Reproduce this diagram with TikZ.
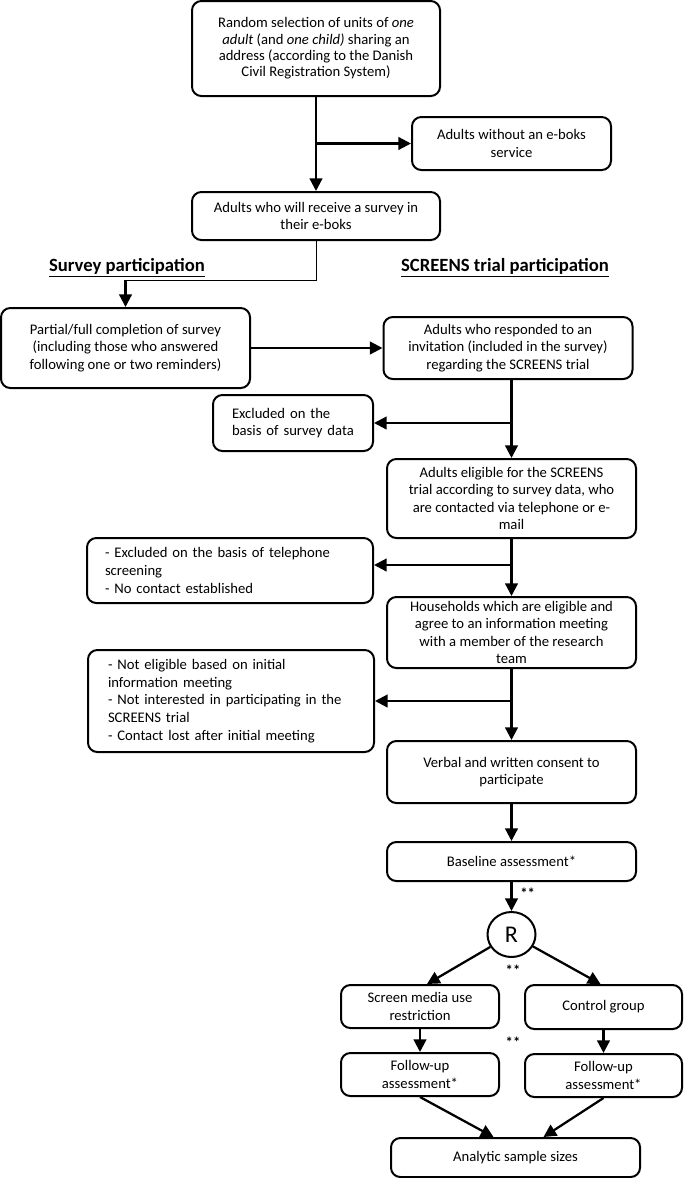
\documentclass[tikz,border=0pt]{standalone}
\usepackage{fontspec}
\setmainfont{Carlito}
\usetikzlibrary{arrows.meta,calc,shapes.geometric}
\begin{document}
\begin{tikzpicture}[x=0.75pt,y=-0.75pt,
  box/.style={draw,line width=1.5pt,rounded corners=7pt,inner sep=0pt,align=center,font=\fontsize{11}{13.2}\selectfont},
  lbox/.style={draw,line width=1.5pt,rounded corners=7pt,align=left,inner ysep=0pt,font=\fontsize{11}{13.2}\selectfont},
  arr/.style={line width=1.7pt,-{Triangle[length=9.5pt,width=9.5pt]}},
  thinline/.style={line width=0.7pt},
  head/.style={font=\fontsize{14}{16}\selectfont\bfseries,inner sep=0pt},
  star/.style={font=\fontsize{11}{12}\selectfont\bfseries,inner sep=0pt}]
\useasboundingbox (0,0) rectangle (685,1178);

\node[box,minimum width=186pt,minimum height=71.25pt,font=\fontsize{11}{12.2}\selectfont] (b1) at (316,48.5)
  {Random selection of units of \textit{one}\\ \textit{adult} (and \textit{one child)} sharing an\\ address (according to the Danish\\ Civil Registration System)};
\node[box,minimum width=149.25pt,minimum height=39.75pt] (b2) at (511.5,143.5)
  {Adults without an e-boks\\ service};
\node[box,minimum width=186pt,minimum height=36pt,font=\fontsize{11}{12.5}\selectfont] (b3) at (316,216)
  {Adults who will receive a survey in\\ their e-boks};
\node[head] (h1) at (127,268) {\underline{Survey participation}};
\node[head] (h2) at (505,268) {\underline{SCREENS trial participation}};
\node[box,minimum width=186.75pt,minimum height=60pt] (b4) at (125.5,348)
  {Partial/full completion of survey\\ (including those who answered\\ following one or two reminders)};
\node[box,minimum width=186.75pt,minimum height=46.5pt] (b5) at (508,348)
  {Adults who responded to an\\ invitation (included in the survey)\\ regarding the SCREENS trial};
\node[lbox,text width=91.5pt,inner xsep=14.25pt,minimum height=42pt] (b6) at (293,423)
  {Excluded on the\\ basis of survey data};
\node[box,minimum width=186.75pt,minimum height=59.25pt] (b7) at (511.5,498.5)
  {Adults eligible for the SCREENS\\ trial according to survey data, who\\ are contacted via telephone or e-\\ mail};
\node[lbox,text width=187.5pt,inner xsep=13.5pt,minimum height=48.75pt] (b8) at (230,570.5)
  {- Excluded on the basis of telephone\\ screening\\ - No contact established};
\node[box,minimum width=186.75pt,minimum height=53.25pt] (b9) at (511.5,632.5)
  {Households which are eligible and\\ agree to an information meeting\\ with a member of the research\\ team};
\node[lbox,text width=184.5pt,inner xsep=15pt,minimum height=76.5pt] (b10) at (231,701)
  {- Not eligible based on initial\\ information meeting\\ - Not interested in participating in the\\ SCREENS trial\\ - Contact lost after initial meeting};
\node[box,minimum width=186.75pt,minimum height=46.5pt] (b11) at (511.5,772)
  {Verbal and written consent to\\ participate};
\node[box,minimum width=186.75pt,minimum height=29.25pt] (b12) at (511.5,861.5)
  {Baseline assessment*};
\node[draw,ellipse,line width=1.5pt,minimum width=36pt,minimum height=33.75pt,inner sep=0pt,font=\fontsize{18}{20}\selectfont] (R) at (511.5,934.5) {R};
\node[box,minimum width=118.5pt,minimum height=32.25pt] (b13) at (420,1006.5)
  {Screen media use\\ restriction};
\node[box,minimum width=117.75pt,minimum height=33pt] (b14) at (603.5,1007)
  {Control group};
\node[box,minimum width=118.5pt,minimum height=32.25pt] (b15) at (420,1074.5)
  {Follow-up\\ assessment*};
\node[box,minimum width=117.75pt,minimum height=32.25pt] (b16) at (603.5,1075.5)
  {Follow-up\\ assessment*};
\node[box,minimum width=186.75pt,minimum height=29.25pt] (b17) at (515.5,1157.5)
  {Analytic sample sizes};

\node[star,anchor=west] (s1) at (520,893) {**};
\node[star] (s2) at (513,970) {**};
\node[star] (s3) at (513,1042) {**};

\draw[arr] (b1.south) -- (b3.north);
\coordinate (j0) at (316,143.5);
\draw[arr] (j0) -- (b2.west);
\coordinate (c1) at (125.5,280);
\draw[thinline] (b3.south) |- (c1);
\draw[arr] (c1) -- (b4.north);
\draw[arr] (b4.east) -- (b5.west);
\coordinate (sp) at (b5.south -| b7.north);
\draw[arr] (sp) -- (b7.north);
\draw[arr] (b6.east -| b7.north) -- (b6.east);
\draw[arr] (b7.south) -- (b9.north);
\coordinate (j2) at (511.5,565);
\draw[arr] (j2) -- (j2 -| b8.east);
\draw[arr] (b9.south) -- (b11.north);
\draw[arr] (b10.east -| b9.south) -- (b10.east);
\draw[arr] (b11.south) -- (b12.north);
\draw[arr] (b12.south) -- (R.north);
\draw[arr] (R) -- ($(b13.north)+(7,0)$);
\draw[arr] (R) -- ($(b14.north)+(-3,0)$);
\draw[arr] (b13.south) -- (b15.north);
\draw[arr] (b14.south) -- (b16.north);
\draw[arr] (b15.south) -- ($(b17.north)+(-22,0)$);
\draw[arr] (b16.south) -- ($(b17.north)+(28,0)$);
\end{tikzpicture}
\end{document}
